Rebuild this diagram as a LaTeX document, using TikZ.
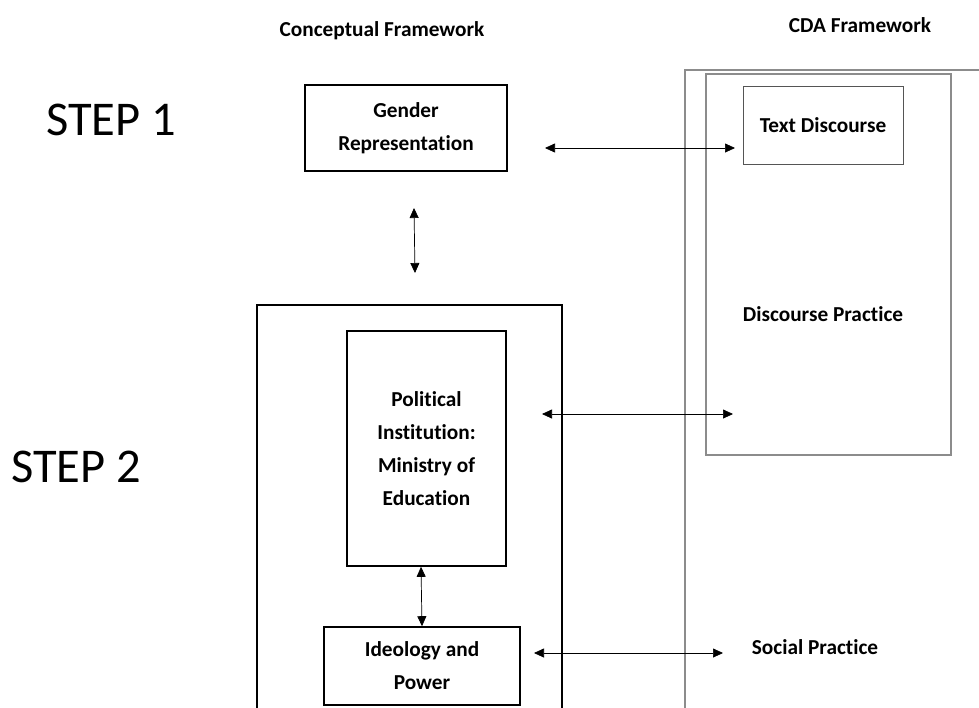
\documentclass[tikz,border=0pt]{standalone}
\usepackage{fontspec}
\setmainfont{Carlito}[Ligatures=NoCommon]
\usetikzlibrary{arrows.meta}
\definecolor{framegray}{HTML}{8C8C8C}
\definecolor{boxgray}{HTML}{555555}
\tikzset{
  thickbox/.style={draw=black, line width=1.6pt, align=center, inner sep=0pt,
    font=\fontsize{21.3}{33}\selectfont\bfseries},
  thinbox/.style={draw=boxgray, line width=0.9pt, align=center, inner sep=0pt,
    font=\fontsize{21.3}{33}\selectfont\bfseries},
  frame/.style={draw=framegray, line width=1.1pt},
  label/.style={font=\fontsize{21.3}{33}\selectfont\bfseries, inner sep=0pt},
  steplabel/.style={font=\fontsize{48.5}{50}\selectfont, inner sep=0pt},
  biarrow/.style={line width=0.7pt, {Triangle[length=10pt,width=9pt]}-{Triangle[length=10pt,width=9pt]}}
}
\begin{document}
\begin{tikzpicture}[x=1pt,y=-1pt]
\useasboundingbox (0,0) rectangle (979,707);
% frames
\draw[frame] (979,70) -- (685,70) -- (685,720);
\draw[frame] (706,74) rectangle (951,455);
\draw[black, line width=1.6pt] (257,720) -- (257,305) -- (562,305) -- (562,720);
% titles
\node[label] (t1) at (382,31) {Conceptual Framework};
\node[label] (t2) at (860,25) {CDA Framework};
\node[steplabel] (s1) at (111,120) {STEP 1};
\node[steplabel] (s2) at (76,467) {STEP 2};
% boxes
\node[thickbox, minimum width=202pt, minimum height=86pt] (gender) at (406,128) {Gender\\Representation};
\node[thinbox, minimum width=160pt, minimum height=78pt] (text) at (823,125) {Text Discourse};
\node[thickbox, minimum width=159pt, minimum height=235pt] (pol) at (426.5,448.5) {Political\\Institution:\\Ministry of\\Education};
\node[thickbox, minimum width=196pt, minimum height=78pt] (ideo) at (422,666) {Ideology and\\Power};
\node[label] (dp) at (823,314) {Discourse Practice};
\node[label] (sp) at (815,647) {Social Practice};
% arrow end points
\coordinate (a1l) at (545,148);
\coordinate (a1r) at (735,148);
\coordinate (a2t) at (414,208);
\coordinate (a2b) at (415,273);
\coordinate (a3l) at (542,414);
\coordinate (a3r) at (733,414);
\coordinate (a5l) at (534,653);
\coordinate (a5r) at (723,653);
% arrows
\draw[biarrow] (a1l) -- (a1r);
\draw[biarrow] (a2t) -- (a2b);
\draw[biarrow] (a3l) -- (a3r);
\draw[biarrow] ([xshift=-5.5pt]pol.south) -- ([xshift=0pt]ideo.north);
\draw[biarrow] (a5l) -- (a5r);
\end{tikzpicture}
\end{document}
